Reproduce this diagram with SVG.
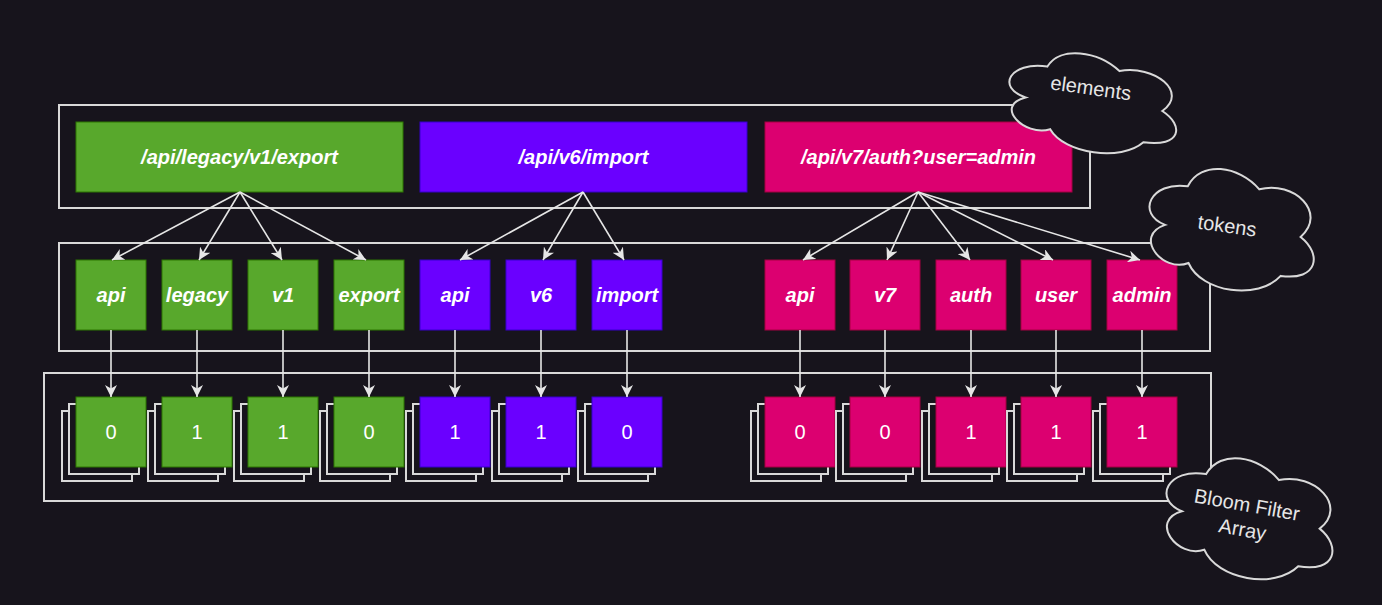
<svg xmlns="http://www.w3.org/2000/svg" width="1382" height="605" viewBox="0 0 1382 605">
<defs>
<style>
.bg{fill:#17141c}
.frame{fill:none;stroke:#d9d9d9;stroke-width:2}
.g{fill:#58a82c;stroke:#2d7600;stroke-width:1}
.p{fill:#6a00ff;stroke:#3700cc;stroke-width:1}
.m{fill:#dc0070;stroke:#a50040;stroke-width:1}
.back{fill:#17141c;stroke:#d9d9d9;stroke-width:2}
.cloud{fill:#17141c;stroke:#d9d9d9;stroke-width:2}
.lbl{font-family:"Liberation Sans",Arial,sans-serif;font-size:20px;font-weight:bold;font-style:italic;fill:#ffffff;text-anchor:middle}
.bit{font-family:"Liberation Sans",Arial,sans-serif;font-size:20px;fill:#ffffff;text-anchor:middle}
.ctx{font-family:"Liberation Sans",Arial,sans-serif;font-size:20px;fill:#e6e6e6;text-anchor:middle}
.edge{fill:none;stroke:#e6e6e6;stroke-width:1.6}
</style>
<marker id="arr" viewBox="0 0 12 12" refX="12" refY="6" markerWidth="12" markerHeight="12" markerUnits="userSpaceOnUse" orient="auto">
<path d="M0,0 L12,6 L0,12 L3.5,6 Z" fill="#e6e6e6"/>
</marker>
</defs>
<rect class="bg" x="0" y="0" width="1382" height="605"/>

<g id="frames">
<rect class="frame" x="59" y="105" width="1031" height="103"/>
<rect class="frame" x="59" y="243" width="1151" height="108"/>
<rect class="frame" x="44" y="373" width="1167" height="128"/>
</g>

<g id="elements">
<g id="el-legacy"><rect class="g" x="76" y="122" width="327" height="70"/><text class="lbl" x="239.5" y="164">/api/legacy/v1/export</text></g>
<g id="el-v6"><rect class="p" x="420" y="122" width="327" height="70"/><text class="lbl" x="583.5" y="164">/api/v6/import</text></g>
<g id="el-v7"><rect class="m" x="765" y="122" width="307" height="70"/><text class="lbl" x="918.5" y="164">/api/v7/auth?user=admin</text></g>
</g>

<g id="tokens">
<g id="tk-g-api"><rect class="g" x="76" y="260" width="70" height="70"/><text class="lbl" x="111" y="302">api</text></g>
<g id="tk-g-legacy"><rect class="g" x="162" y="260" width="70" height="70"/><text class="lbl" x="197" y="302">legacy</text></g>
<g id="tk-g-v1"><rect class="g" x="248" y="260" width="70" height="70"/><text class="lbl" x="283" y="302">v1</text></g>
<g id="tk-g-export"><rect class="g" x="334" y="260" width="70" height="70"/><text class="lbl" x="369" y="302">export</text></g>
<g id="tk-p-api"><rect class="p" x="420" y="260" width="70" height="70"/><text class="lbl" x="455" y="302">api</text></g>
<g id="tk-p-v6"><rect class="p" x="506" y="260" width="70" height="70"/><text class="lbl" x="541" y="302">v6</text></g>
<g id="tk-p-import"><rect class="p" x="592" y="260" width="70" height="70"/><text class="lbl" x="627" y="302">import</text></g>
<g id="tk-m-api"><rect class="m" x="765" y="260" width="70" height="70"/><text class="lbl" x="800" y="302">api</text></g>
<g id="tk-m-v7"><rect class="m" x="850" y="260" width="70" height="70"/><text class="lbl" x="885" y="302">v7</text></g>
<g id="tk-m-auth"><rect class="m" x="936" y="260" width="70" height="70"/><text class="lbl" x="971" y="302">auth</text></g>
<g id="tk-m-user"><rect class="m" x="1021" y="260" width="70" height="70"/><text class="lbl" x="1056" y="302">user</text></g>
<g id="tk-m-admin"><rect class="m" x="1107" y="260" width="70" height="70"/><text class="lbl" x="1142" y="302">admin</text></g>
</g>

<g id="bits">
<g id="b-g-api"><rect class="back" x="62" y="411" width="70" height="70"/><rect class="back" x="69" y="404" width="70" height="70"/><rect class="g" x="76" y="397" width="70" height="70"/><text class="bit" x="111" y="439">0</text></g>
<g id="b-g-legacy"><rect class="back" x="148" y="411" width="70" height="70"/><rect class="back" x="155" y="404" width="70" height="70"/><rect class="g" x="162" y="397" width="70" height="70"/><text class="bit" x="197" y="439">1</text></g>
<g id="b-g-v1"><rect class="back" x="234" y="411" width="70" height="70"/><rect class="back" x="241" y="404" width="70" height="70"/><rect class="g" x="248" y="397" width="70" height="70"/><text class="bit" x="283" y="439">1</text></g>
<g id="b-g-export"><rect class="back" x="320" y="411" width="70" height="70"/><rect class="back" x="327" y="404" width="70" height="70"/><rect class="g" x="334" y="397" width="70" height="70"/><text class="bit" x="369" y="439">0</text></g>
<g id="b-p-api"><rect class="back" x="406" y="411" width="70" height="70"/><rect class="back" x="413" y="404" width="70" height="70"/><rect class="p" x="420" y="397" width="70" height="70"/><text class="bit" x="455" y="439">1</text></g>
<g id="b-p-v6"><rect class="back" x="492" y="411" width="70" height="70"/><rect class="back" x="499" y="404" width="70" height="70"/><rect class="p" x="506" y="397" width="70" height="70"/><text class="bit" x="541" y="439">1</text></g>
<g id="b-p-import"><rect class="back" x="578" y="411" width="70" height="70"/><rect class="back" x="585" y="404" width="70" height="70"/><rect class="p" x="592" y="397" width="70" height="70"/><text class="bit" x="627" y="439">0</text></g>
<g id="b-m-api"><rect class="back" x="751" y="411" width="70" height="70"/><rect class="back" x="758" y="404" width="70" height="70"/><rect class="m" x="765" y="397" width="70" height="70"/><text class="bit" x="800" y="439">0</text></g>
<g id="b-m-v7"><rect class="back" x="836" y="411" width="70" height="70"/><rect class="back" x="843" y="404" width="70" height="70"/><rect class="m" x="850" y="397" width="70" height="70"/><text class="bit" x="885" y="439">0</text></g>
<g id="b-m-auth"><rect class="back" x="922" y="411" width="70" height="70"/><rect class="back" x="929" y="404" width="70" height="70"/><rect class="m" x="936" y="397" width="70" height="70"/><text class="bit" x="971" y="439">1</text></g>
<g id="b-m-user"><rect class="back" x="1007" y="411" width="70" height="70"/><rect class="back" x="1014" y="404" width="70" height="70"/><rect class="m" x="1021" y="397" width="70" height="70"/><text class="bit" x="1056" y="439">1</text></g>
<g id="b-m-admin"><rect class="back" x="1093" y="411" width="70" height="70"/><rect class="back" x="1100" y="404" width="70" height="70"/><rect class="m" x="1107" y="397" width="70" height="70"/><text class="bit" x="1142" y="439">1</text></g>
</g>

<g id="connectors">
<line class="edge" x1="240" y1="192" x2="112" y2="260" marker-end="url(#arr)"/>
<line class="edge" x1="240" y1="192" x2="199" y2="260" marker-end="url(#arr)"/>
<line class="edge" x1="240" y1="192" x2="282" y2="260" marker-end="url(#arr)"/>
<line class="edge" x1="240" y1="192" x2="366" y2="260" marker-end="url(#arr)"/>
<line class="edge" x1="583" y1="192" x2="460" y2="260" marker-end="url(#arr)"/>
<line class="edge" x1="583" y1="192" x2="543" y2="260" marker-end="url(#arr)"/>
<line class="edge" x1="583" y1="192" x2="624" y2="260" marker-end="url(#arr)"/>
<line class="edge" x1="918" y1="192" x2="803" y2="260" marker-end="url(#arr)"/>
<line class="edge" x1="918" y1="192" x2="887" y2="260" marker-end="url(#arr)"/>
<line class="edge" x1="918" y1="192" x2="970" y2="260" marker-end="url(#arr)"/>
<line class="edge" x1="918" y1="192" x2="1053" y2="260" marker-end="url(#arr)"/>
<line class="edge" x1="918" y1="192" x2="1140" y2="260" marker-end="url(#arr)"/>
<line class="edge" x1="111" y1="330" x2="111" y2="397" marker-end="url(#arr)"/>
<line class="edge" x1="197" y1="330" x2="197" y2="397" marker-end="url(#arr)"/>
<line class="edge" x1="283" y1="330" x2="283" y2="397" marker-end="url(#arr)"/>
<line class="edge" x1="369" y1="330" x2="369" y2="397" marker-end="url(#arr)"/>
<line class="edge" x1="455" y1="330" x2="455" y2="397" marker-end="url(#arr)"/>
<line class="edge" x1="541" y1="330" x2="541" y2="397" marker-end="url(#arr)"/>
<line class="edge" x1="627" y1="330" x2="627" y2="397" marker-end="url(#arr)"/>
<line class="edge" x1="800" y1="330" x2="800" y2="397" marker-end="url(#arr)"/>
<line class="edge" x1="885" y1="330" x2="885" y2="397" marker-end="url(#arr)"/>
<line class="edge" x1="971" y1="330" x2="971" y2="397" marker-end="url(#arr)"/>
<line class="edge" x1="1056" y1="330" x2="1056" y2="397" marker-end="url(#arr)"/>
<line class="edge" x1="1142" y1="330" x2="1142" y2="397" marker-end="url(#arr)"/>
</g>

<g id="cloud-elements" transform="translate(1091,101) rotate(8)">
<path class="cloud" d="M-48,-28 C-86.4,-28 -96,0 -65.3,5.6 C-96,18 -61.4,44.8 -36.5,33.6 C-19.2,56 38.4,56 57.6,33.6 C96,33.6 96,11.2 72,0 C96,-22.4 57.6,-44.8 24,-33.6 C0,-50.4 -38.4,-50.4 -48,-28Z"/>
<text class="ctx" x="-2" y="-6">elements</text>
</g>
<g id="cloud-tokens" transform="translate(1230,227) rotate(8)">
<path class="cloud" d="M-47.5,-34.5 C-85.5,-34.5 -95,0 -64.6,6.9 C-95,22.1 -60.8,55.2 -36.1,41.4 C-19,69 38,69 57,41.4 C95,41.4 95,13.8 71.3,0 C95,-27.6 57,-55.2 23.8,-41.4 C0,-62.1 -38,-62.1 -47.5,-34.5Z"/>
<text class="ctx" x="-3" y="6">tokens</text>
</g>
<g id="cloud-bloom" transform="translate(1248,516) rotate(10)">
<path class="cloud" d="M-48.5,-34 C-87.3,-34 -97,0 -66,6.8 C-97,21.8 -62.1,54.4 -37.2,40.8 C-19.4,68 38.8,68 58.2,40.8 C97,40.8 97,13.6 72.8,0 C97,-27.2 58.2,-54.4 24.3,-40.8 C0,-61.2 -38.8,-61.2 -48.5,-34Z"/>
<text class="ctx" x="-3" y="-4">Bloom Filter</text>
<text class="ctx" x="-3" y="21">Array</text>
</g>
</svg>
